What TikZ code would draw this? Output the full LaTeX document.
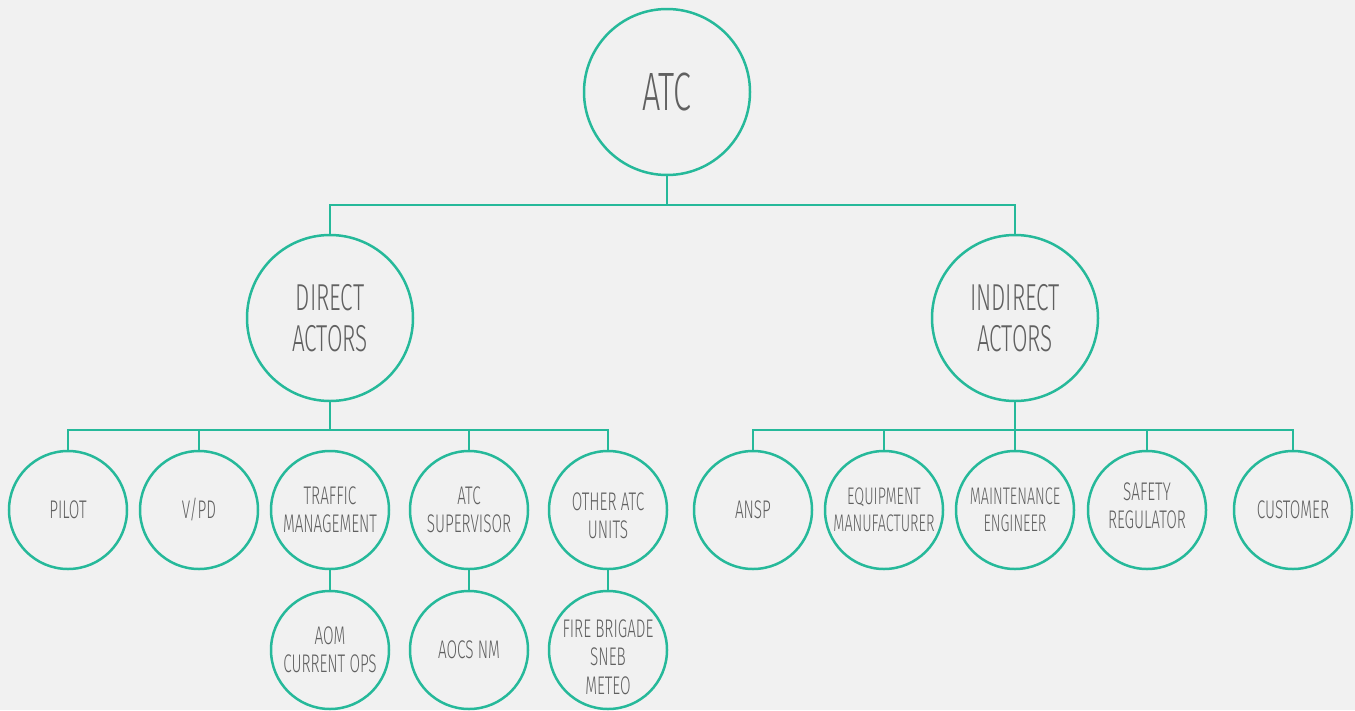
\documentclass[tikz,border=0pt]{standalone}
\usepackage{fontspec}
\IfFontExistsTF{Fira Sans Light}
  {\setmainfont{Fira Sans Light}[FakeStretch=0.6]}
  {\setmainfont{Fira Sans}[FakeStretch=0.6]}
\definecolor{teal}{HTML}{26B99A}
\definecolor{ink}{HTML}{606060}
\definecolor{paper}{HTML}{F1F1F1}
\tikzset{
  bubble/.style={circle, draw=teal, line width=2.5pt, inner sep=0pt,
    align=center, text=ink},
  big/.style={bubble, minimum size=166pt, font=\fontsize{37.5}{41}\selectfont},
  small/.style={bubble, minimum size=118pt, font=\fontsize{25.5}{28.5}\selectfont},
  tiny/.style={small, font=\fontsize{24}{27}\selectfont},
  caption/.style={align=center, text=ink, font=\fontsize{25.5}{28.5}\selectfont},
  link/.style={draw=teal, line width=2.5pt}
}
\begin{document}
\begin{tikzpicture}[x=1pt,y=-1pt]
  \fill[paper] (0,0) rectangle (1355,710);
  \useasboundingbox (0,0) rectangle (1355,710);

  % root and the two actor groups
  \node[big, font=\fontsize{54}{54}\selectfont] (atc) at (667,92) {ATC};
  \node[big] (direct) at (330,318) {DIRECT\\ACTORS};
  \node[big] (indirect) at (1015,318) {INDIRECT\\ACTORS};

  % direct actors
  \node[small] (d1) at (68,510) {PILOT};
  \node[small] (d2) at (199,510) {V/PD};
  \node[small] (d3) at (330,510) {TRAFFIC\\MANAGEMENT};
  \node[small] (d4) at (469,510) {ATC\\SUPERVISOR};
  \node[small, label={[caption, yshift=-6pt]center:OTHER ATC\\UNITS}] (d5) at (608,510) {};
  \node[small] (d3b) at (330,650) {AOM\\CURRENT OPS};
  \node[small] (d4b) at (469,650) {AOCS NM};
  \node[small, label={[caption, yshift=-7pt]center:FIRE BRIGADE\\SNEB\\METEO}] (d5b) at (608,650) {};

  % indirect actors
  \node[small] (i1) at (753,510) {ANSP};
  \node[tiny] (i2) at (884,510) {EQUIPMENT\\MANUFACTURER};
  \node[tiny] (i3) at (1015,510) {MAINTENANCE\\ENGINEER};
  \node[small, label={[caption, yshift=4pt]center:SAFETY\\REGULATOR}] (i4) at (1147,510) {};
  \node[small] (i5) at (1293,510) {CUSTOMER};

  % bus junctions
  \coordinate (top) at (667,205);
  \coordinate (dbus) at (330,430);
  \coordinate (ibus) at (1015,430);

  % connectors
  \draw[link] (atc.south) -- (top);
  \draw[link] (direct.north) |- (top) -| (indirect.north);

  \draw[link] (direct.south) -- (dbus);
  \draw[link] (d1.north) |- (dbus) -| (d5.north);
  \draw[link] (d2.north) -- (d2.north |- dbus);
  \draw[link] (d4.north) -- (d4.north |- dbus);

  \draw[link] (indirect.south) -- (ibus);
  \draw[link] (i1.north) |- (ibus) -| (i5.north);
  \draw[link] (i2.north) -- (i2.north |- ibus);
  \draw[link] (i3.north) -- (ibus);
  \draw[link] (i4.north) -- (i4.north |- ibus);

  \draw[link] (d3.south) -- (d3b.north);
  \draw[link] (d4.south) -- (d4b.north);
  \draw[link] (d5.south) -- (d5b.north);
\end{tikzpicture}
\end{document}
